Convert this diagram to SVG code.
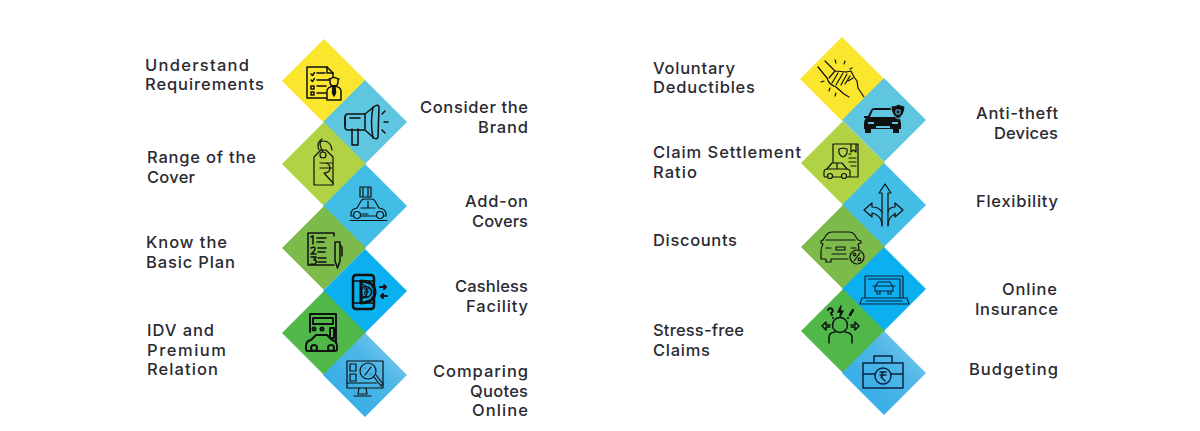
<svg xmlns="http://www.w3.org/2000/svg" width="1200" height="431" viewBox="0 0 1200 431">
<defs>
<linearGradient id="g4" x1="0" y1="1" x2="1" y2="0"><stop offset="0" stop-color="#2ba9e6"/><stop offset="0.6" stop-color="#4db6e8"/><stop offset="1" stop-color="#8ccfec"/></linearGradient>
<path id="d" d="M0-42L42 0L0 42L-42 0Z"/>
</defs>
<style>
text{font-family:Inter,"Open Sans",sans-serif;font-size:16.5px;font-weight:500;fill:#2a2a32}
.e{text-anchor:end}
.i{fill:none;stroke:#111;stroke-width:1.5;stroke-linejoin:round;stroke-linecap:round}
.t{stroke-width:1.2}
.h{stroke-width:2}
.n{stroke:#0c2340}
.y{fill:#fbe62e}.b1{fill:#5ec6e1}.lg{fill:#b2d245}.b2{fill:#41bde6}.g1{fill:#7cba4b}.b3{fill:#0db0ef}.g2{fill:#50b848}.b4{fill:url(#g4)}
</style>
<g id="understand"><use href="#d" x="324" y="81" class="y"/>
<g class="i"><path d="M307 67h20l6 6v25h-26z"/><path d="M327 67v6h6"/><path d="M311 74l1.500 1.500 2-3M311 80l1.500 1.500 2-3M311 86h3v3h-3zM311 92h3v3h-3zM317 73h8M317 80h12M317 86h9M317 93h9"/></g>
<g class="i"><path d="M329 79h10" /><path d="M330 79v3q0 4 4 4q4 0 4-4v-3q-4-3-8 0z" fill="#fbe62e"/><path d="M327 100v-9q0-4 7-5q7 1 7 5v9z" fill="#fbe62e"/><path d="M333 87h2l0.500 6l-1.500 3l-1.500-3z" fill="#111"/></g>
<text x="145" y="71" textLength="104">Understand</text><text x="145" y="90" textLength="119">Requirements</text></g>
<g id="consider"><use href="#d" x="365" y="122" class="b1"/>
<g class="i"><path d="M348 114h17l10-8q3-2 4 1l-1 30q-1 3-4 1l-9-8h-17q-3 0-3-3v-10q0-3 3-3z"/><path d="M365 114v15M352 129v16h6v-16M350 118h10M373 107q-3 15 0 31M345 117v9"/><path d="M382 114l3-3M384 122h4M382 130l3 3"/></g>
<text class="e" x="528" y="113" textLength="108">Consider the</text><text class="e" x="528" y="133" textLength="50">Brand</text></g>
<g id="range"><use href="#d" x="324" y="164" class="lg"/>
<g class="i t"><path d="M314 157l7-7h5l7 7v28h-19z"/><circle cx="323" cy="155" r="3"/><path d="M323 152q-6-11 0-11q8 0 9 9M319 150q-3-7 3-11"/><path d="M320 163h12M320 168h12M324 163q6 0 6 5q0 5-6 5l9 10"/></g>
<text x="147" y="163" textLength="109">Range of the</text><text x="147" y="183" textLength="48">Cover</text></g>
<g id="addon"><use href="#d" x="365" y="206" class="b2"/>
<g class="i t"><path d="M360 187h11v10h-11zM363 187v10M368 187v10"/><path d="M351 214q0-5 6-6l4-7q1-2 4-2h6q3 0 4 2l4 7q7 1 7 6v2h-35z"/><path d="M361 208h14M368 201v7M362 214h6"/><circle cx="357" cy="215" r="3.500" fill="#41bde6"/><circle cx="380" cy="215" r="3.500" fill="#41bde6"/><path d="M350 220.500h37"/></g>
<text class="e" x="528" y="207" textLength="63">Add-on</text><text class="e" x="528" y="227" textLength="56">Covers</text></g>
<g id="basic"><use href="#d" x="324" y="248" class="g1"/>
<g class="i"><path d="M334 236v-3h-26v32h26"/><path d="M335 242h5v19l-2.500 7l-2.500-7z"/><path d="M340 245l2 2v9"/><path d="M311 237l2-1v8M317 238h9M317 242h7M311 248q4-2 4 1q0 2-4 5h5M318 248h8M318 252h7M311 257h5l-2 3q3 0 2 3q-1 2-5 1M318 258h8M318 262h8"/></g>
<text x="146" y="248" textLength="81">Know the</text><text x="146" y="268" textLength="89">Basic Plan</text></g>
<g id="cashless"><use href="#d" x="365" y="291" class="b3"/>
<g class="i" style="stroke-width:2.500"><rect x="353" y="275" width="21" height="34" rx="3"/><path style="stroke-width:1.500" d="M353 281h21M353 303h21"/><path style="stroke-width:3" d="M361 281q14 1 14 11t-14 11z"/><path style="stroke-width:1.300" d="M362 284a8 8 0 0 1 0 15"/><circle style="stroke-width:1.500" cx="366" cy="292" r="5.500"/><path style="stroke-width:1" d="M364 289h5M364 292h5M365 289q3 3-1 5l4 3"/><path style="stroke-width:2" d="M380 287h6M384 285l2 2l-2 2M387 296h-6M383 294l-2 2l2 2"/></g>
<text class="e" x="528" y="292" textLength="73">Cashless</text><text class="e" x="528" y="312" textLength="62">Facility</text></g>
<g id="idv"><use href="#d" x="324" y="333" class="g2"/>
<g class="i h"><path d="M310 332v-18h26v29"/><path d="M313 318h20v6h-20zM330 328h4v10h-4z"/><circle cx="314" cy="329" r="1.500"/><circle cx="322" cy="329" r="1.500"/><path d="M306 346q0-5 5-6l5-5h11l5 5q5 1 5 6v3q0 2-2 2h-27q-2 0-2-2z"/><circle cx="314" cy="348" r="3" fill="#50b848"/><circle cx="331" cy="348" r="3" fill="#50b848"/></g>
<text x="147" y="336" textLength="67">IDV and</text><text x="147" y="356" textLength="79">Premium</text><text x="147" y="375" textLength="71">Relation</text></g>
<g id="comparing"><use href="#d" x="365" y="375" class="b4"/>
<g class="i t"><path d="M347 361h36v27h-36z"/><path d="M347 383h30M359 388l-1 6h9l-1-6M354 396h17"/><rect x="350" y="364" width="6" height="7" /><rect x="350" y="374" width="6" height="7"/><circle cx="368" cy="371" r="8"/><path d="M365 375l6-8M365 368h0M371 374h0"/><path d="M374 377l7 9l2-2l-7-9"/></g>
<text class="e" x="528" y="377" textLength="95">Comparing</text><text class="e" x="528" y="397" textLength="58">Quotes</text><text class="e" x="528" y="416" textLength="56">Online</text></g>
<g id="voluntary"><use href="#d" x="842" y="79" class="y"/>
<g class="i t"><path d="M818 67l9 11q2 7 9 9l8 7 5 3M825 61l10 10l11 1"/><path d="M835 71l-6 7M838 73l-6 10M843 73l-7 12M847 74l-6 11M850 76l-5 8"/><path d="M846 72l5-1l3 6l3 4l1 7l6 9M848 81l5-3"/><path d="M835 60l1 3M845 61l-1 3M850 69l2-1M821 82l3-1M829 91l1-3M835 96l1-3"/></g>
<text x="653" y="74" textLength="82">Voluntary</text><text x="653" y="93" textLength="102">Deductibles</text></g>
<g id="antitheft"><use href="#d" x="884" y="120" class="b1"/>
<path fill="#111" d="M864 116h4l3-6q1-2 4-2h16q3 0 4 2l3 6h3v2h-2q2 2 2 5v6h-2v4h-6v-4h-22v4h-6v-4h-1v-6q0-3 2-5h-2z"/>
<path fill="#5ec6e1" d="M873 110h20l3 7h-26zM868 122h6v2h-6zM892 122h6v2h-6zM876 126h14v2h-14z"/>
<path fill="#111" stroke="#5ec6e1" d="M891 106q6 0 7-2q4 2 7 2q0 9-7 13q-7-4-7-13z"/>
<path fill="none" stroke="#5ec6e1" d="M896 110h4v4h-4z"/>
<text class="e" x="1058" y="119" textLength="82">Anti-theft</text><text class="e" x="1058" y="139" textLength="64">Devices</text></g>
<g id="claim"><use href="#d" x="843" y="163" class="lg"/>
<g class="i t"><path d="M833 165v-21h25v33h-8"/><path d="M851 144v8l2.500-2l2.500 2v-8"/><path d="M839 149l4-1l4 1q1 6-4 8q-5-2-4-8zM849 154h2M849 158h7M849 162h7M851 166h5"/><path d="M824 172q0-3 3-3l5-6h10l5 6q3 0 3 3v4q0 1-2 1h-22q-2 0-2-1z" fill="#b2d245"/><path d="M827 169h20M837 163v6"/><circle cx="830" cy="176" r="2.500" fill="#b2d245"/><circle cx="844" cy="176" r="2.500" fill="#b2d245"/></g>
<text x="653" y="158" textLength="148">Claim Settlement</text><text x="653" y="178" textLength="44">Ratio</text></g>
<g id="flexibility"><use href="#d" x="884" y="205" class="b2"/>
<g class="i t"><path d="M882 225v-32h-3l6-9l6 9h-3v32"/><path d="M882 226q0-9-7-12l-3-1v4l-8-7l8-7v4q7 0 10 5"/><path d="M888 226q0-9 7-12l0-1v4l8-7l-8-7v4q-5 0-7 4"/></g>
<text class="e" x="1058" y="207" textLength="82">Flexibility</text></g>
<g id="discounts"><use href="#d" x="843" y="247" class="g1"/>
<g class="i t"><path d="M823 240l4-6q2-2 5-2h17q3 0 5 2l4 6l3 1v2l-3 1q1 3 1 7"/><path d="M823 240l-2 1v2l2 1q-2 3-2 8v7h5v3h5v-3h17"/><path d="M826 240h29M826 248h5M851 248h5M836 247h9v3h-9zM832 254h14"/><circle cx="857" cy="257" r="7" fill="#7cba4b"/><path d="M854 261l6-8"/><circle cx="854.500" cy="254.500" r="1.300"/><circle cx="859.500" cy="259.500" r="1.300"/></g>
<text x="653" y="246" textLength="84">Discounts</text></g>
<g id="online"><use href="#d" x="884" y="289" class="b3"/>
<g class="i t n"><path d="M865 298v-22h38v22M868 279h32v19M862 298h45l2 6h-49zM866 301h36"/><path d="M875 291v-4l3-5h12l3 5v4zM873 286h22M877 291v3h3v-3M888 291v3h3v-3"/></g>
<text class="e" x="1057" y="295" textLength="55">Online</text><text class="e" x="1058" y="315" textLength="83">Insurance</text></g>
<g id="stress"><use href="#d" x="843" y="331" class="g2"/>
<g class="i"><circle cx="840" cy="325" r="7.500"/><path d="M829 343v-6q0-4 6-5M852 343v-6q0-4-7-5"/><path d="M830 325h-4v-3l-4 4l4 4v-3h4M851 325h4v-3l4 4l-4 4v-3h-4"/><path class="h" d="M828 310q2-3 4-1q2 2-1 4l1 2M833 318h0"/><path d="M841 306l-3 6h3l-1 5l3-6h-3z" fill="#111"/><path style="stroke-width:2.500" d="M853 310l-3 5"/><path d="M848 318h0" class="h"/></g>
<text x="653" y="336" textLength="91">Stress-free</text><text x="653" y="356" textLength="57">Claims</text></g>
<g id="budgeting"><use href="#d" x="884" y="373" class="b4"/>
<g class="i n"><path d="M863 363h40v25h-40zM863 374h40M874 363v-7h18v7"/><circle cx="883" cy="376" r="8" fill="#4db6e8"/><path d="M880 372h6M880 375h6M881 372q4 3 0 5l4 4"/></g>
<text class="e" x="1058" y="375" textLength="89">Budgeting</text></g>
</svg>
